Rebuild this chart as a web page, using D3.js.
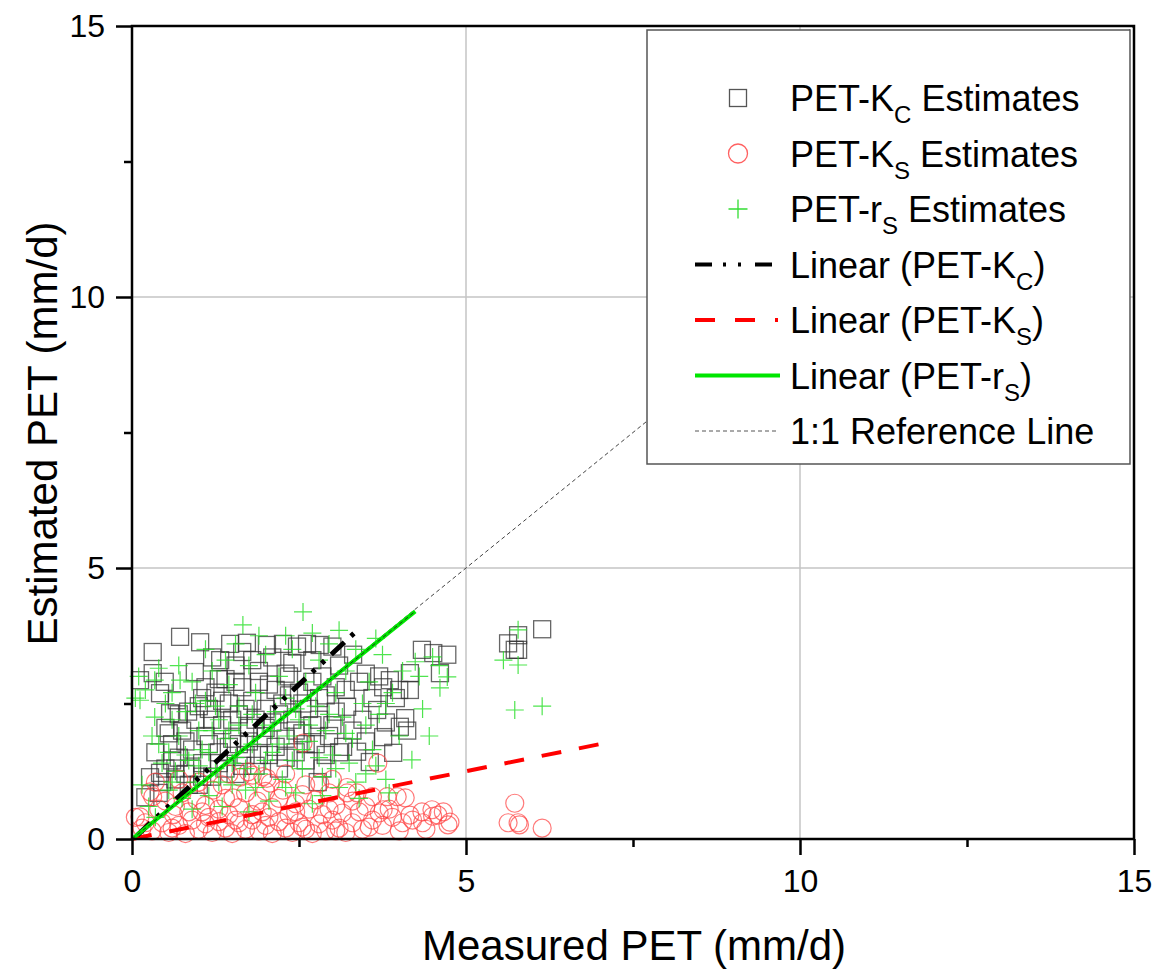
<!DOCTYPE html>
<html>
<head>
<meta charset="utf-8">
<script src="https://cdn.jsdelivr.net/npm/d3@7"></script>
<style>
  body { margin: 0; background: #fff; }
  svg { display: block; font-family: "Liberation Sans", Arial, sans-serif; }
</style>
</head>
<body>
<div id="chart"></div>
<script>
// PET-Kc estimates (measured, estimated)
const kcPoints = [
  [0.12,2.93],[0.31,3.45],[0.31,3.06],[0.49,2.90],[0.72,3.73],[1.02,3.63],[0.94,3.08],[1.2,3.35],
  [1.32,3.30],[1.47,3.60],[1.55,3.2],[1.72,3.62],[1.8,3.3],[2.02,3.58],[2.1,3.35],[2.26,3.60],
  [2.4,3.25],[2.47,3.55],[2.62,3.60],[2.7,3.3],[2.81,3.58],[3.0,3.55],[3.1,3.2],[3.31,3.40],
  [3.5,3.05],[4.34,3.49],[4.51,3.43],[4.72,3.40],[4.16,3.06],[4.61,3.06],[3.86,2.93],[3.76,2.80],
  [4.16,2.75],[1.65,3.45],[1.9,3.1],[2.3,3.05],[2.85,3.0],[1.4,2.95],[1.1,2.8],
  [0.42,2.69],[0.67,2.56],[0.84,2.35],[0.57,2.32],
  [0.5,1.3],[0.6,1.75],[0.7,1.5],[0.75,2.0],[0.8,1.2],[0.9,1.65],[0.95,2.2],[0.65,1.1],[0.85,1.0],[0.55,1.95],
  [1.05,1.4],[1.1,1.9],[1.15,2.4],[1.2,1.15],[1.25,2.7],[1.3,1.6],[1.35,2.1],[1.4,1.3],[1.45,2.5],[1.5,1.85],[1.05,2.6],[1.3,2.95],
  [1.55,1.2],[1.6,2.3],[1.65,2.8],[1.7,1.55],[1.75,2.05],[1.8,2.55],[1.85,1.35],[1.9,2.9],[1.95,1.9],[2.0,2.4],[1.6,1.75],
  [2.05,1.55],[2.1,2.15],[2.15,2.75],[2.2,1.3],[2.25,2.5],[2.3,1.85],[2.35,3.0],[2.4,2.2],[2.45,1.6],[2.5,2.7],
  [2.55,1.95],[2.6,1.45],[2.65,2.4],[2.7,2.9],[2.75,1.75],[2.8,2.2],[2.85,1.3],[2.9,2.65],[2.95,1.9],[2.78,1.05],
  [3.05,2.35],[3.1,1.6],[3.16,1.70],[3.2,2.75],[3.22,2.44],[3.3,2.0],[3.37,1.61],[3.4,2.9],[3.45,2.2],[3.5,1.8],
  [3.56,1.42],[3.6,2.6],[3.67,2.38],[3.76,1.88],[3.8,2.15],[3.91,1.59],[4.01,2.07],[4.09,2.23],[3.95,2.6],[3.7,3.0],
  [4.12,2.0],[4.0,2.75],
  [0.2,0.77],[0.27,1.14],[0.4,0.85],[0.42,1.22],[0.35,1.6],[0.45,1.05],
  [0.6,1.45],[0.7,2.3],[0.8,1.8],[0.9,1.3],[1.0,2.45],[1.05,1.15],[1.15,1.75],[1.2,2.2],[1.3,1.4],[1.35,2.55],
  [1.45,1.7],[1.5,2.2],[1.55,2.9],[1.65,1.35],[1.7,2.4],[1.75,1.8],[1.85,2.2],[1.9,1.55],[2.0,2.05],[2.05,2.85],
  [2.15,1.7],[2.2,2.3],[2.3,1.5],[2.35,2.65],[2.45,2.0],[2.55,2.5],[2.6,1.75],[2.7,2.1],[2.8,2.6],[2.9,1.55],
  [3.0,2.1],[3.05,2.8],[0.5,2.05],[0.65,1.3],[1.0,1.0],
  [5.63,3.61],[5.78,3.76],[5.73,3.49],[5.78,3.49],[6.14,3.87]
];

// PET-Ks estimates
const ksPoints = [
  [0.15,0.2],[0.3,0.15],[0.45,0.3],[0.55,0.12],[0.7,0.25],[0.8,0.1],[0.9,0.35],[1.0,0.18],[1.1,0.28],[1.2,0.12],
  [1.3,0.32],[1.4,0.2],[1.5,0.1],[1.6,0.3],[1.7,0.18],[1.8,0.35],[1.9,0.15],[2.0,0.25],[2.1,0.1],[2.2,0.32],
  [2.3,0.2],[2.4,0.12],[2.5,0.3],[2.6,0.18],[2.7,0.1],[2.8,0.28],[2.9,0.15],[3.0,0.35],[3.1,0.2],[3.2,0.12],
  [3.3,0.3],[3.45,0.18],[3.6,0.35],[3.75,0.25],[3.9,0.4],[4.05,0.3],[4.2,0.35],[4.35,0.3],[4.5,0.42],[4.73,0.26],
  [0.05,0.4],[0.62,0.45],[1.05,0.5],[1.45,0.45],[1.95,0.5],[2.45,0.5],[2.95,0.55],[3.4,0.5],[3.85,0.55],
  [0.12,0.41],[0.27,0.87],[0.31,0.78],[0.4,0.55],[0.5,0.7],[0.65,0.6],[0.75,0.85],[0.85,0.5],[0.97,0.72],[1.1,0.62],
  [1.21,0.9],[1.3,0.55],[1.4,0.75],[1.51,0.76],[1.6,0.58],[1.7,0.85],[1.8,0.45],[1.88,0.7],[2.0,0.88],[2.1,0.58],
  [2.2,0.75],[2.26,0.9],[2.35,0.45],[2.45,0.65],[2.55,0.82],[2.65,0.55],[2.75,0.72],[2.85,0.45],[2.95,0.85],[3.05,0.62],
  [3.15,0.48],[3.22,0.85],[3.3,0.7],[3.37,0.85],[3.5,0.6],[3.6,0.78],[3.7,0.48],[3.76,0.54],[3.82,0.78],[3.97,0.78],
  [4.09,0.76],[4.16,0.44],[4.34,0.5],[4.49,0.54],[4.58,0.44],[4.66,0.5],[4.76,0.31],
  [0.35,1.05],[0.7,1.1],[1.0,1.05],[1.35,1.0],[1.62,1.14],[1.74,1.24],[1.8,1.18],[1.96,1.15],[2.02,1.12],[2.07,1.03],
  [2.3,1.2],[2.56,1.77],[2.6,1.0],[2.81,1.03],[3.0,1.1],[3.22,0.95],[3.68,1.40],[1.45,1.2],
  [0.2,0.3],[0.6,0.2],[1.15,0.4],[1.55,0.35],[2.05,0.4],[2.55,0.22],[3.05,0.15],[3.55,0.22],[4.0,0.15],[4.4,0.18],
  [5.73,0.66],[5.63,0.30],[5.78,0.30],[5.8,0.26],[6.14,0.2]
];

// PET-rs estimates
const rsPoints = [
  [0.05,2.6],[0.12,2.56],[0.2,2.75],[0.34,2.93],[0.34,2.25],[0.1,3.0],[0.4,3.15],[0.5,2.5],[0.6,2.2],[0.3,1.9],
  [0.15,1.0],[0.25,0.6],[0.35,0.4],[0.45,1.4],[0.55,0.9],[0.4,1.75],[0.72,2.93],
  [0.55,1.6],[0.6,2.7],[0.65,1.25],[0.7,1.9],[0.75,0.75],[0.8,2.35],[0.85,1.45],[0.9,2.9],[0.95,1.05],[1.0,2.0],[0.7,3.2],[0.9,0.55],
  [1.05,1.65],[1.1,2.55],[1.15,0.8],[1.2,3.1],[1.25,1.3],[1.3,2.2],[1.35,0.6],[1.4,1.85],[1.45,2.85],[1.5,1.0],[1.1,3.5],[1.4,3.3],[1.2,2.0],
  [1.55,1.5],[1.6,2.45],[1.66,3.95],[1.7,0.9],[1.75,3.2],[1.8,1.75],[1.85,2.7],[1.9,1.2],[1.95,2.1],[2.0,3.4],[1.55,3.6],[1.75,0.5],[1.9,3.75],
  [2.05,0.7],[2.1,1.6],[2.15,2.35],[2.2,3.0],[2.25,1.1],[2.3,2.6],[2.35,1.9],[2.4,3.5],[2.45,0.85],[2.5,2.2],[2.56,4.19],[2.3,3.75],[2.4,1.45],
  [2.55,1.3],[2.6,2.9],[2.65,1.8],[2.7,0.65],[2.75,2.45],[2.8,3.3],[2.85,1.15],[2.9,2.0],[2.95,3.6],[3.0,1.55],[2.7,3.8],[2.85,0.8],
  [3.05,2.7],[3.1,0.95],[3.15,2.25],[3.2,3.1],[3.25,1.4],[3.3,1.85],[3.35,3.5],[3.4,0.75],[3.45,2.5],[3.5,1.2],[3.1,3.85],
  [3.55,2.9],[3.6,1.65],[3.7,2.3],[3.75,3.4],[3.8,1.1],[3.9,2.7],[4.0,1.9],[4.05,3.1],[4.19,1.46],[4.24,3.27],[3.65,3.7],[3.85,0.85],
  [4.5,3.36],[4.61,2.79],[4.72,2.99],[4.35,2.4],[4.45,1.9],[4.3,3.0],[4.6,3.2],
  [0.6,1.05],[0.8,1.55],[0.95,2.5],[1.0,1.35],[1.15,1.6],[1.25,2.45],[1.3,1.05],[1.45,2.0],[1.5,1.4],[1.6,2.1],
  [1.7,1.3],[1.8,2.3],[1.85,0.95],[2.0,1.45],[2.1,2.0],[2.2,1.75],[2.3,0.95],[2.45,2.4],[2.55,1.65],[2.65,2.1],
  [2.8,1.5],[2.95,2.3],[3.05,1.3],[3.2,1.95],[3.35,1.05],[3.5,2.1],[3.65,1.35],[3.8,2.5],
  [5.78,3.86],[5.56,3.30],[5.78,3.21],[5.73,2.38],[6.14,2.45]
];

// linear fits and the 1:1 reference (end points in data units)
const kcFit = [[0.08, 0.07], [3.38, 3.86]];
const ksFit = [[0, 0], [7.0, 1.75]];
const rsFit = [[0, 0], [4.24, 4.2]];
const refLine = [[0, 0], [15, 15]];

const majorTicks = [0, 5, 10, 15];
const minorTicks = [2.5, 7.5, 12.5];
const gridValues = [5, 10];

const margin = { top: 26, right: 29, bottom: 132, left: 132 };
const width = 1163 - margin.left - margin.right;
const height = 971 - margin.top - margin.bottom;

const svg = d3.select("#chart").append("svg")
    .attr("width", 1163)
    .attr("height", 971);

const g = svg.append("g")
    .attr("transform", `translate(${margin.left},${margin.top})`);

const x = d3.scaleLinear().domain([0, 15]).range([0, width]);
const y = d3.scaleLinear().domain([0, 15]).range([height, 0]);

// grid
g.selectAll("line.gx").data(gridValues).enter().append("line")
    .attr("x1", d => x(d)).attr("x2", d => x(d))
    .attr("y1", 0).attr("y2", height)
    .attr("stroke", "#c4c4c4").attr("stroke-width", 1.5);
g.selectAll("line.gy").data(gridValues).enter().append("line")
    .attr("y1", d => y(d)).attr("y2", d => y(d))
    .attr("x1", 0).attr("x2", width)
    .attr("stroke", "#c4c4c4").attr("stroke-width", 1.5);

// markers
const sq = 17;
g.append("g").selectAll("rect").data(kcPoints).enter().append("rect")
    .attr("x", d => x(d[0]) - sq / 2)
    .attr("y", d => y(d[1]) - sq / 2)
    .attr("width", sq).attr("height", sq)
    .attr("fill", "none")
    .attr("stroke", "#333").attr("stroke-opacity", 0.75).attr("stroke-width", 1.3);

g.append("g").selectAll("circle").data(ksPoints).enter().append("circle")
    .attr("cx", d => x(d[0]))
    .attr("cy", d => y(d[1]))
    .attr("r", 9)
    .attr("fill", "none")
    .attr("stroke", "#ff4040").attr("stroke-opacity", 0.7).attr("stroke-width", 1.2);

const plusPath = (cx, cy, s) => `M${cx - s},${cy}H${cx + s}M${cx},${cy - s}V${cy + s}`;
g.append("g").selectAll("path").data(rsPoints).enter().append("path")
    .attr("d", d => plusPath(x(d[0]), y(d[1]), 9))
    .attr("fill", "none")
    .attr("stroke", "#22dd22").attr("stroke-opacity", 0.8).attr("stroke-width", 1.2);

// lines
const line = d3.line().x(d => x(d[0])).y(d => y(d[1]));
g.append("path").datum(refLine).attr("d", line)
    .attr("fill", "none").attr("stroke", "#444").attr("stroke-width", 1)
    .attr("stroke-dasharray", "4,3");
g.append("path").datum(ksFit).attr("d", line)
    .attr("fill", "none").attr("stroke", "#ff0000").attr("stroke-width", 4)
    .attr("stroke-dasharray", "20,18");
g.append("path").datum(kcFit).attr("d", line)
    .attr("fill", "none").attr("stroke", "#000").attr("stroke-width", 5)
    .attr("stroke-dasharray", "18,9,4,9,4,9");
g.append("path").datum(rsFit).attr("d", line)
    .attr("fill", "none").attr("stroke", "#00e600").attr("stroke-width", 4);
g.append("path").datum(rsFit).attr("d", line)
    .attr("fill", "none").attr("stroke", "#1a3a1a").attr("stroke-width", 1)
    .attr("stroke-dasharray", "4,3");

// axes
const xAxis = d3.axisBottom(x).tickValues(majorTicks).tickSize(16).tickPadding(14).tickSizeOuter(0);
const yAxis = d3.axisLeft(y).tickValues(majorTicks).tickSize(16).tickPadding(11).tickSizeOuter(0);

const gx = g.append("g").attr("transform", `translate(0,${height})`).call(xAxis);
const gy = g.append("g").call(yAxis);
[gx, gy].forEach(a => {
    a.select(".domain").remove();
    a.selectAll("line").attr("stroke", "#000").attr("stroke-width", 2.5);
    a.selectAll("text").attr("font-size", "32px").attr("fill", "#000")
        .attr("font-family", "Liberation Sans, Arial, sans-serif");
});

g.append("g").attr("transform", `translate(0,${height})`)
    .call(d3.axisBottom(x).tickValues(minorTicks).tickSize(8).tickFormat(""))
    .call(a => a.select(".domain").remove())
    .selectAll("line").attr("stroke", "#000").attr("stroke-width", 2.5);
g.append("g")
    .call(d3.axisLeft(y).tickValues(minorTicks).tickSize(8).tickFormat(""))
    .call(a => a.select(".domain").remove())
    .selectAll("line").attr("stroke", "#000").attr("stroke-width", 2.5);

// frame
g.append("rect")
    .attr("x", 0).attr("y", 0).attr("width", width).attr("height", height)
    .attr("fill", "none").attr("stroke", "#000").attr("stroke-width", 2.5);

// axis titles
svg.append("text")
    .attr("x", margin.left + width / 2 + 1)
    .attr("y", 960)
    .attr("text-anchor", "middle")
    .attr("font-size", "42px")
    .text("Measured PET (mm/d)");

svg.append("text")
    .attr("transform", `translate(57,${margin.top + height / 2 + 1}) rotate(-90)`)
    .attr("text-anchor", "middle")
    .attr("font-size", "42px")
    .text("Estimated PET (mm/d)");

// legend
const legend = svg.append("g").attr("transform", "translate(647,30)");
legend.append("rect")
    .attr("width", 483).attr("height", 434)
    .attr("fill", "#fff").attr("stroke", "#555").attr("stroke-width", 1.5);

const legendItems = [
    { main: "PET-K", sub: "C", tail: " Estimates", kind: "square" },
    { main: "PET-K", sub: "S", tail: " Estimates", kind: "circle" },
    { main: "PET-r", sub: "S", tail: " Estimates", kind: "plus" },
    { main: "Linear (PET-K", sub: "C", tail: ")", kind: "kc" },
    { main: "Linear (PET-K", sub: "S", tail: ")", kind: "ks" },
    { main: "Linear (PET-r", sub: "S", tail: ")", kind: "rs" },
    { main: "1:1 Reference Line", sub: "", tail: "", kind: "ref" }
];

legendItems.forEach((d, i) => {
    const cy = 68 + i * 55.5;
    const row = legend.append("g");
    if (d.kind === "square") {
        row.append("rect").attr("x", 91 - 8.5).attr("y", cy - 8.5).attr("width", 17).attr("height", 17)
            .attr("fill", "none").attr("stroke", "#555").attr("stroke-width", 1.3);
    } else if (d.kind === "circle") {
        row.append("circle").attr("cx", 91).attr("cy", cy).attr("r", 9.5)
            .attr("fill", "none").attr("stroke", "#ff6060").attr("stroke-width", 1.3);
    } else if (d.kind === "plus") {
        row.append("path").attr("d", plusPath(91, cy, 9.5))
            .attr("fill", "none").attr("stroke", "#33dd33").attr("stroke-width", 1.3);
    } else {
        const styles = {
            kc: { c: "#000", w: 4, dash: "17,11,3,12,3,14", x2: 126 },
            ks: { c: "#ff0000", w: 4, dash: "20,20", x2: 131 },
            rs: { c: "#00e600", w: 4, dash: null, x2: 133 },
            ref: { c: "#555", w: 1, dash: "4,3", x2: 131 }
        }[d.kind];
        row.append("line").attr("x1", 48).attr("x2", styles.x2).attr("y1", cy).attr("y2", cy)
            .attr("stroke", styles.c).attr("stroke-width", styles.w)
            .attr("stroke-dasharray", styles.dash);
    }
    const t = row.append("text").attr("x", 143).attr("y", cy + 13).attr("font-size", "36px").attr("fill", "#000");
    t.append("tspan").text(d.main);
    if (d.sub) {
        t.append("tspan").attr("dy", 12).attr("font-size", "24px").text(d.sub);
        t.append("tspan").attr("dy", -12).text(d.tail);
    }
});
</script>
</body>
</html>
